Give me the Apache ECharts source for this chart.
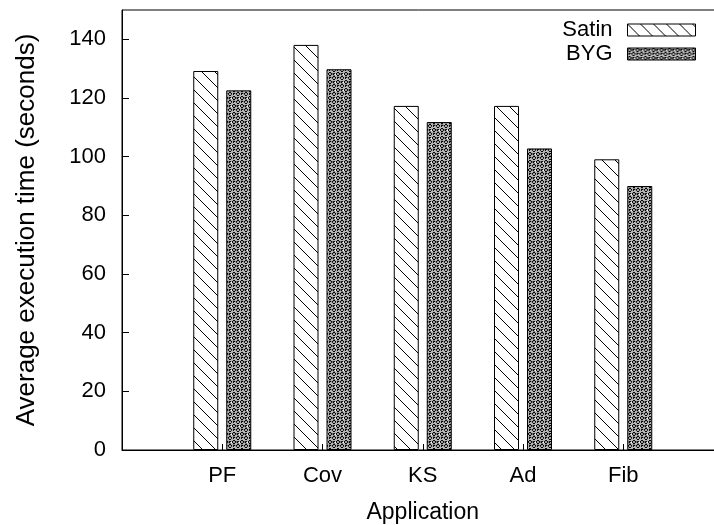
<!DOCTYPE html>
<html>
<head>
<meta charset="utf-8">
<script src="https://cdn.jsdelivr.net/npm/echarts@6/dist/echarts.min.js"></script>
<style>
  html, body { margin: 0; padding: 0; background: #fff; }
  #chart { width: 714px; height: 525px; }
</style>
</head>
<body>
<div id="chart"></div>
<script>
// empty slots at both ends give the padding gnuplot leaves around the groups
const categories = ["", "PF", "Cov", "KS", "Ad", "Fib", ""];
const satinTimes = [null, 129.2, 138.1, 117.3, 117.3, 99.1, null];
const bygTimes = [null, 122.6, 129.8, 111.8, 102.8, 90.0, null];
const seriesNames = ["Satin", "BYG"];

const font = "'Liberation Sans', Arial, sans-serif";

// diagonal lines for Satin
function linePattern(size) {
  const c = document.createElement("canvas");
  c.width = size;
  c.height = size;
  const ctx = c.getContext("2d");
  ctx.fillStyle = "#fff";
  ctx.fillRect(0, 0, size, size);
  ctx.strokeStyle = "#000";
  ctx.lineWidth = 1;
  for (let k = -1; k <= 1; k++) {
    ctx.beginPath();
    ctx.moveTo(k * size, 0);
    ctx.lineTo(k * size + size, size);
    ctx.stroke();
  }
  return { image: c, repeat: "repeat" };
}

// little diamonds and crosses for BYG
function dotPattern() {
  const c = document.createElement("canvas");
  c.width = 8;
  c.height = 8;
  const ctx = c.getContext("2d");
  ctx.fillStyle = "#fff";
  ctx.fillRect(0, 0, 8, 8);
  ctx.strokeStyle = "#000";
  ctx.lineWidth = 1.1;
  [[2, 2], [6, 6]].forEach(([x, y]) => {
    ctx.beginPath();
    ctx.moveTo(x, y - 2);
    ctx.lineTo(x + 2, y);
    ctx.lineTo(x, y + 2);
    ctx.lineTo(x - 2, y);
    ctx.closePath();
    ctx.stroke();
  });
  [[6, 2], [2, 6]].forEach(([x, y]) => {
    ctx.beginPath();
    ctx.moveTo(x - 1.4, y - 1.4);
    ctx.lineTo(x + 1.4, y + 1.4);
    ctx.moveTo(x + 1.4, y - 1.4);
    ctx.lineTo(x - 1.4, y + 1.4);
    ctx.stroke();
  });
  return { image: c, repeat: "repeat" };
}

const satinFill = linePattern(13);
const bygFill = dotPattern();

const myChart = echarts.init(document.getElementById("chart"));

myChart.setOption({
  animation: false,
  backgroundColor: "#fff",
  textStyle: { fontFamily: font, color: "#000" },
  grid: {
    left: 122,
    top: 10,
    width: 601.5,
    height: 440,
    show: true,
    borderColor: "#000",
    borderWidth: 1,
    outerBoundsMode: "none",
  },
  legend: {
    orient: "vertical",
    right: 18,
    top: 19,
    align: "right",
    itemWidth: 68,
    itemHeight: 12,
    itemGap: 2,
    padding: 0,
    icon: "rect",
    textStyle: { fontFamily: font, fontSize: 22, color: "#000", padding: [0, 10, 0, 0] },
    itemStyle: { borderColor: "#000", borderWidth: 1 },
    data: seriesNames,
  },
  xAxis: {
    type: "category",
    data: categories,
    boundaryGap: false,
    name: "Application",
    nameLocation: "middle",
    nameGap: 51,
    nameTextStyle: { fontFamily: font, fontSize: 23, color: "#000" },
    axisLine: { lineStyle: { color: "#000", width: 1 } },
    axisTick: {
      inside: true,
      length: 6,
      lineStyle: { color: "#000" },
      interval: (i, v) => v !== "",
    },
    axisLabel: {
      fontFamily: font,
      fontSize: 22,
      color: "#000",
      margin: 15,
      interval: 0,
    },
    splitLine: { show: false },
  },
  yAxis: {
    type: "value",
    min: 0,
    max: 150,
    interval: 20,
    name: "Average execution time (seconds)",
    nameLocation: "middle",
    nameRotate: 90,
    nameGap: 82,
    nameTextStyle: { fontFamily: font, fontSize: 26, color: "#000" },
    axisLine: { show: true, lineStyle: { color: "#000", width: 1 } },
    axisTick: { show: true, inside: true, length: 7, lineStyle: { color: "#000" } },
    axisLabel: {
      fontFamily: font,
      fontSize: 22,
      color: "#000",
      margin: 16,
      showMaxLabel: false,
    },
    splitLine: { show: false },
  },
  series: [
    {
      name: seriesNames[0],
      type: "bar",
      data: satinTimes,
      barWidth: 25,
      barGap: "32%",
      itemStyle: { color: satinFill, borderColor: "#000", borderWidth: 1 },
    },
    {
      name: seriesNames[1],
      type: "bar",
      data: bygTimes,
      barWidth: 25,
      itemStyle: { color: bygFill, borderColor: "#000", borderWidth: 1 },
    },
  ],
});
</script>
</body>
</html>
